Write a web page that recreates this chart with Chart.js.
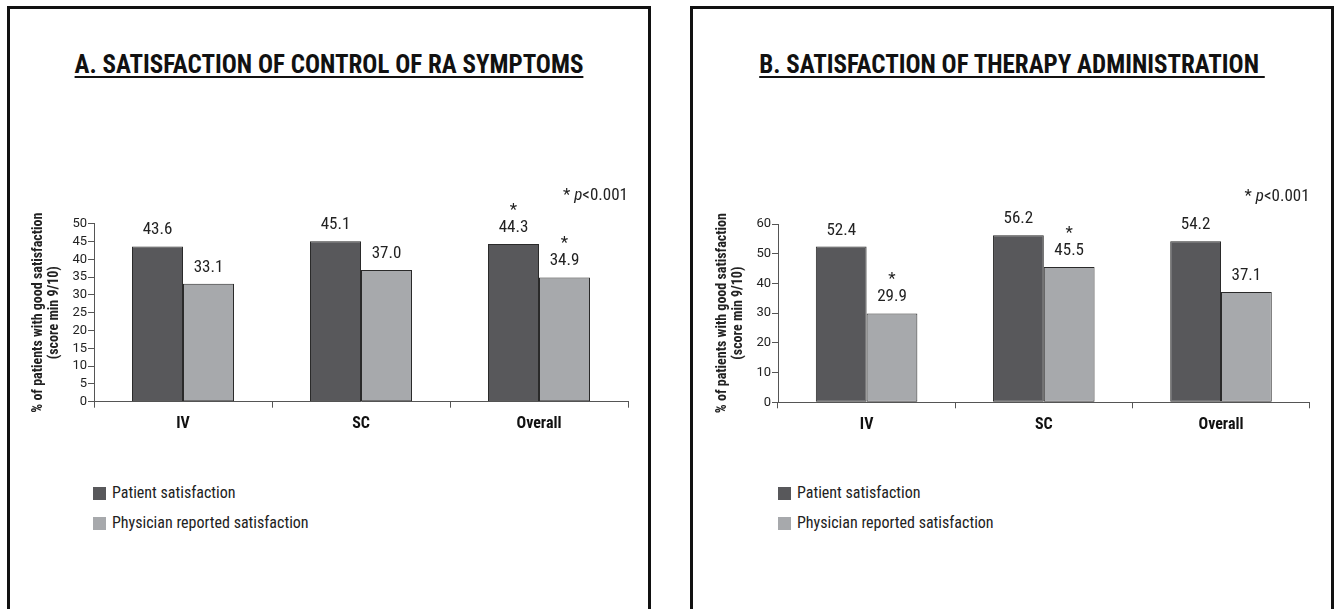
<!DOCTYPE html>
<html>
<head>
<meta charset="utf-8">
<script src="https://cdn.jsdelivr.net/npm/chart.js@4.4.0/dist/chart.umd.min.js"></script>
<style>
  html,body{margin:0;padding:0;background:#fff;width:1336px;height:609px;overflow:hidden;}
  .panel{position:absolute;top:6px;width:644px;height:660px;box-sizing:border-box;border:3px solid #111;}
  .ptitle{position:absolute;left:0;right:0;top:41px;text-align:center;font:bold 25px/30px "Roboto Condensed",sans-serif;color:#111;}
  .ptitle span{text-decoration:underline;text-decoration-thickness:2px;text-underline-offset:3px;}
  .cw{position:absolute;top:160px;height:290px;}
  .legend{position:absolute;top:480px;font:16px "Roboto Condensed",sans-serif;color:#222;}
  .legend .item{position:relative;height:30px;}
  .legend .sw{position:absolute;left:0;top:7px;width:13px;height:13px;}
  .legend .tx{position:absolute;left:19px;top:3px;line-height:20px;white-space:nowrap;}
</style>
</head>
<body>
<div class="panel" style="left:7px;"><div class="ptitle"><span>A. SATISFACTION OF CONTROL OF RA SYMPTOMS</span></div></div>
<div class="panel" style="left:690px;"><div class="ptitle"><span>B. SATISFACTION OF THERAPY ADMINISTRATION&nbsp;</span></div></div>
<div class="cw" style="left:12px;width:630px;"><canvas id="chartA"></canvas></div>
<div class="cw" style="left:695.7px;width:627.6px;"><canvas id="chartB"></canvas></div>
<div class="legend" id="legendA" style="left:93px;"></div>
<div class="legend" id="legendB" style="left:778px;"></div>
<script>
// ---- data ----
const categories = ['IV', 'SC', 'Overall'];
const seriesNames = ['Patient satisfaction', 'Physician reported satisfaction'];
const seriesColors = ['#58585b', '#a7a9ac'];

const controlPatient = [43.6, 45.1, 44.3];
const controlPhysician = [33.1, 37.0, 34.9];
const controlPatientSig = [false, false, true];
const controlPhysicianSig = [false, false, true];
const controlMax = 50, controlStep = 5;

const adminPatient = [52.4, 56.2, 54.2];
const adminPhysician = [29.9, 45.5, 37.1];
const adminPatientSig = [false, false, false];
const adminPhysicianSig = [true, true, false];
const adminMax = 60, adminStep = 10;

const yAxisTitle = ['% of patients with good satisfaction', '(score min 9/10)'];
const pNote = ['* ', 'p', '<0.001'];

Chart.defaults.font.family = '"Roboto Condensed", sans-serif';
Chart.defaults.color = '#222';

const labelPlugin = {
  id: 'valueLabels',
  afterDatasetsDraw(chart) {
    const ctx = chart.ctx;
    ctx.save();
    ctx.fillStyle = '#222';
    ctx.textAlign = 'center';
    ctx.textBaseline = 'alphabetic';
    ctx.font = '17px "Roboto Condensed"';
    chart.data.datasets.forEach((ds, di) => {
      const meta = chart.getDatasetMeta(di);
      meta.data.forEach((bar, i) => {
        const base = bar.y - 12;
        ctx.fillText(ds.data[i].toFixed(1), bar.x, base);
        if (ds.sig[i]) ctx.fillText('*', bar.x, base - 17);
      });
    });
    // p-value note, right aligned to plot area
    const a = chart.chartArea;
    const y = a.top - 23.5;
    const fN = '17px "Roboto Condensed"', fI = 'italic 17px "Roboto Condensed"';
    ctx.textAlign = 'left';
    ctx.font = fN; const w0 = ctx.measureText(pNote[0]).width, w2 = ctx.measureText(pNote[2]).width;
    ctx.font = fI; const w1 = ctx.measureText(pNote[1]).width;
    let x = a.right - (w0 + w1 + w2);
    ctx.font = fN; ctx.fillText(pNote[0], x, y); x += w0;
    ctx.font = fI; ctx.fillText(pNote[1], x, y); x += w1;
    ctx.font = fN; ctx.fillText(pNote[2], x, y);
    ctx.restore();
  }
};

function makeChart(id, patient, physician, pSig, phSig, maxV, step, padTop, padBottom) {
  return new Chart(document.getElementById(id), {
    type: 'bar',
    data: {
      labels: categories,
      datasets: [
        {label: seriesNames[0], data: patient, sig: pSig, backgroundColor: seriesColors[0], borderColor: '#2a2a2a', borderWidth: 1, borderSkipped: false},
        {label: seriesNames[1], data: physician, sig: phSig, backgroundColor: seriesColors[1], borderColor: '#2a2a2a', borderWidth: 1, borderSkipped: false}
      ]
    },
    options: {
      responsive: true,
      maintainAspectRatio: false,
      animation: false,
      layout: {padding: {left: 0, right: 14, top: padTop, bottom: padBottom}},
      datasets: {bar: {categoryPercentage: 0.573, barPercentage: 1.0}},
      plugins: {legend: {display: false}, tooltip: {enabled: false}},
      scales: {
        x: {
          afterFit(s) { s.height = 40; },
          grid: {display: true, offset: true, drawOnChartArea: false, drawTicks: true, tickLength: 6, color: '#555', lineWidth: 1},
          border: {display: true, color: '#555', width: 1},
          ticks: {padding: 7, color: '#111', font: {size: 16, weight: 'bold', family: '"Roboto Condensed"'}}
        },
        y: {
          min: 0, max: maxV,
          afterFit(s) { s.width = 82; },
          grid: {display: true, drawOnChartArea: false, drawTicks: true, tickLength: 6, color: '#555', lineWidth: 1},
          border: {display: true, color: '#555', width: 1},
          ticks: {stepSize: step, autoSkip: false, padding: 1, color: '#222', font: {size: 13, family: 'Roboto'}},
          title: {display: true, text: yAxisTitle, color: '#222', padding: {top: 18, bottom: 0},
                  font: {size: 14, weight: 'bold', family: '"Roboto Condensed"', lineHeight: 1.19}}
        }
      }
    },
    plugins: [labelPlugin]
  });
}

function buildLegend(chart, elId) {
  const el = document.getElementById(elId);
  chart.data.datasets.forEach(ds => {
    const item = document.createElement('div'); item.className = 'item';
    const sw = document.createElement('div'); sw.className = 'sw'; sw.style.background = ds.backgroundColor;
    const tx = document.createElement('div'); tx.className = 'tx'; tx.textContent = ds.label;
    item.appendChild(sw); item.appendChild(tx); el.appendChild(item);
  });
}

const chartA = makeChart('chartA', controlPatient, controlPhysician, controlPatientSig, controlPhysicianSig, controlMax, controlStep, 63.7, 8.3);
const chartB = makeChart('chartB', adminPatient, adminPhysician, adminPatientSig, adminPhysicianSig, adminMax, adminStep, 64, 7.7);
buildLegend(chartA, 'legendA');
buildLegend(chartB, 'legendB');
</script>
</body>
</html>
